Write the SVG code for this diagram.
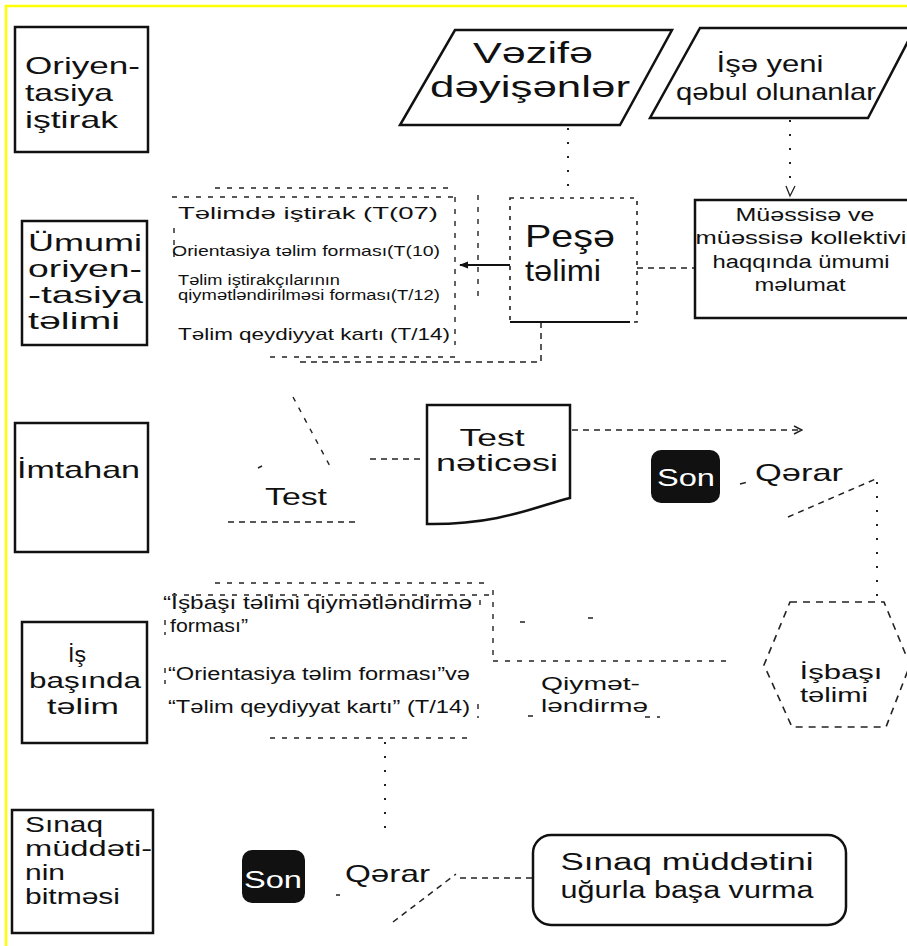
<svg xmlns="http://www.w3.org/2000/svg" width="907" height="946" viewBox="0 0 907 946">
<defs>
<style>
text{font-family:"Liberation Sans",Arial,sans-serif;fill:#111}
.box{fill:none;stroke:#111;stroke-width:2.5}
.faint{fill:none;stroke:#222;stroke-width:1.4;stroke-dasharray:5 7}
.dots{fill:none;stroke:#222;stroke-width:2;stroke-dasharray:2 12}
.dash{fill:none;stroke:#222;stroke-width:1.5;stroke-dasharray:6 5}
.c{text-anchor:middle}
.w{fill:#fff}
</style>
<marker id="ah" viewBox="0 0 10 10" refX="9" refY="5" markerWidth="9" markerHeight="9" orient="auto" markerUnits="userSpaceOnUse">
<path d="M0,1 L10,5 L0,9 Z" fill="#111"/>
</marker>
<marker id="oa" viewBox="0 0 10 10" refX="9" refY="5" markerWidth="10" markerHeight="10" orient="auto" markerUnits="userSpaceOnUse">
<path d="M1,1 L9,5 L1,9" fill="none" stroke="#222" stroke-width="1.5"/>
</marker>
</defs>
<rect width="907" height="946" fill="#fff"/>
<g id="frame">
<line x1="5" y1="6" x2="907" y2="6" stroke="#ffff00" stroke-width="2.5"/>
<line x1="6" y1="5" x2="6" y2="946" stroke="#ffff00" stroke-width="2.5"/>
</g>

<g id="connectors">
<line class="dots" x1="568" y1="128" x2="568" y2="196"/>
<line class="dots" x1="790" y1="120" x2="790" y2="190"/>
<path d="M786,186 L790,196 L795,186" fill="none" stroke="#222" stroke-width="1.3"/>
<line x1="510" y1="265" x2="460" y2="265" stroke="#111" stroke-width="2.2" marker-end="url(#ah)"/>
<line class="dash" x1="637" y1="268" x2="695" y2="268"/>
<path class="dash" d="M541,322 V362 H300"/>
<path class="faint" d="M293,397 L332,470"/>
<line class="dash" x1="370" y1="459" x2="425" y2="459"/>
<line class="dash" x1="572" y1="430" x2="802" y2="430" marker-end="url(#oa)"/>
<path class="dash" d="M740,484 L748,482"/>
<path class="dash" d="M788,517 L878,478"/>
<line class="dots" x1="877" y1="482" x2="877" y2="600"/>
<line class="dots" x1="385" y1="742" x2="385" y2="835"/>
<path class="dash" d="M393,922 L456,874"/>
<path class="dash" d="M336,895 L340,895"/>
<line class="dash" x1="460" y1="878" x2="532" y2="878"/>
</g>

<g id="n-oriyentasiya-istirak">
<rect class="box" x="15" y="27" width="133" height="125"/>
<text x="25" y="74" font-size="24" textLength="115" lengthAdjust="spacingAndGlyphs">Oriyen-</text>
<text x="25" y="101" font-size="24" textLength="88" lengthAdjust="spacingAndGlyphs">tasiya</text>
<text x="25" y="128" font-size="24" textLength="93" lengthAdjust="spacingAndGlyphs">iştirak</text>
</g>

<g id="n-umumi">
<rect class="box" x="22" y="221" width="125" height="124"/>
<text x="28" y="251" font-size="24" textLength="114" lengthAdjust="spacingAndGlyphs">Ümumi</text>
<text x="28" y="277" font-size="24" textLength="114" lengthAdjust="spacingAndGlyphs">oriyen-</text>
<text x="28" y="303" font-size="24" textLength="115" lengthAdjust="spacingAndGlyphs">-tasiya</text>
<text x="28" y="329" font-size="24" textLength="92" lengthAdjust="spacingAndGlyphs">təlimi</text>
</g>

<g id="n-imtahan">
<rect class="box" x="15" y="423" width="133" height="129"/>
<text x="17" y="478" font-size="24" textLength="123" lengthAdjust="spacingAndGlyphs">İmtahan</text>
</g>

<g id="n-is-basinda">
<rect class="box" x="22" y="622" width="125" height="121"/>
<text class="c" x="77" y="662" font-size="22" textLength="18" lengthAdjust="spacingAndGlyphs">İş</text>
<text class="c" x="85" y="688" font-size="22" textLength="112" lengthAdjust="spacingAndGlyphs">başında</text>
<text class="c" x="83" y="714" font-size="22" textLength="72" lengthAdjust="spacingAndGlyphs">təlim</text>
</g>

<g id="n-sinaq-bitmesi">
<rect class="box" x="12" y="810" width="141" height="123"/>
<text x="25" y="832" font-size="22" textLength="78" lengthAdjust="spacingAndGlyphs">Sınaq</text>
<text x="25" y="856" font-size="22" textLength="127" lengthAdjust="spacingAndGlyphs">müddəti-</text>
<text x="25" y="880" font-size="22" textLength="40" lengthAdjust="spacingAndGlyphs">nin</text>
<text x="25" y="904" font-size="22" textLength="95" lengthAdjust="spacingAndGlyphs">bitməsi</text>
</g>

<g id="n-vezife">
<polygon class="box" points="455,30 672,30 620,125 400,125"/>
<text class="c" x="533" y="63" font-size="30" textLength="120" lengthAdjust="spacingAndGlyphs">Vəzifə</text>
<text class="c" x="530" y="97" font-size="30" textLength="200" lengthAdjust="spacingAndGlyphs">dəyişənlər</text>
</g>

<g id="n-ise-yeni">
<polygon class="box" points="700,28 915,28 868,118 650,118"/>
<text class="c" x="770" y="72" font-size="24" textLength="107" lengthAdjust="spacingAndGlyphs">İşə yeni</text>
<text class="c" x="776" y="100" font-size="24" textLength="200" lengthAdjust="spacingAndGlyphs">qəbul olunanlar</text>
</g>

<g id="n-sened-siyahisi-1">
<path class="faint" d="M215,188 H455 M172,197 H455 M174,228 V262 M455,197 V345 M478,195 V300 M270,357 H455"/>
<text x="178" y="219" font-size="17" textLength="260" lengthAdjust="spacingAndGlyphs">Təlimdə iştirak (T(07)</text>
<text x="172" y="256" font-size="15" textLength="268" lengthAdjust="spacingAndGlyphs">Orientasiya təlim forması(T(10)</text>
<text x="178" y="285" font-size="14" textLength="162" lengthAdjust="spacingAndGlyphs">Təlim iştirakçılarının</text>
<text x="178" y="300" font-size="14" textLength="262" lengthAdjust="spacingAndGlyphs">qiymətləndirilməsi forması(T/12)</text>
<text x="178" y="340" font-size="17" textLength="272" lengthAdjust="spacingAndGlyphs">Təlim qeydiyyat kartı (T/14)</text>
</g>

<g id="n-pese-telimi">
<rect x="510" y="198" width="127" height="124" fill="none" stroke="#222" stroke-width="1.6" stroke-dasharray="4 6"/>
<line x1="510" y1="322" x2="630" y2="322" stroke="#111" stroke-width="2"/>
<text class="c" x="570" y="247" font-size="32" textLength="90" lengthAdjust="spacingAndGlyphs">Peşə</text>
<text class="c" x="563" y="281" font-size="30" textLength="76" lengthAdjust="spacingAndGlyphs">təlimi</text>
</g>

<g id="n-muessise">
<rect class="box" x="695" y="200" width="215" height="118"/>
<text class="c" x="805" y="221" font-size="18" textLength="139" lengthAdjust="spacingAndGlyphs">Müəssisə ve</text>
<text class="c" x="801" y="244" font-size="18" textLength="211" lengthAdjust="spacingAndGlyphs">müəssisə kollektivi</text>
<text class="c" x="801" y="268" font-size="18" textLength="177" lengthAdjust="spacingAndGlyphs">haqqında ümumi</text>
<text class="c" x="800" y="291" font-size="18" textLength="91" lengthAdjust="spacingAndGlyphs">məlumat</text>
</g>

<g id="n-test">
<path class="dash" d="M228,522 H360"/>
<path class="faint" d="M258,468 L262,466"/>
<text class="c" x="296" y="505" font-size="24" textLength="62" lengthAdjust="spacingAndGlyphs">Test</text>
</g>

<g id="n-test-neticesi">
<path class="box" d="M427,405 H570 V498 C540,505 500,525 427,524 Z"/>
<text class="c" x="492" y="446" font-size="24" textLength="65" lengthAdjust="spacingAndGlyphs">Test</text>
<text class="c" x="497" y="471" font-size="24" textLength="122" lengthAdjust="spacingAndGlyphs">nəticəsi</text>
</g>

<g id="n-son-1">
<rect x="651" y="450" width="69" height="53" rx="10" fill="#111"/>
<text class="c w" x="686" y="486" font-size="24" textLength="58" lengthAdjust="spacingAndGlyphs">Son</text>
</g>

<g id="n-qerar-1">
<text class="c" x="799" y="481" font-size="24" textLength="88" lengthAdjust="spacingAndGlyphs">Qərar</text>
</g>

<g id="n-sened-siyahisi-2">
<path class="faint" d="M215,583 H490 M172,595 H490 M493,590 V661 M493,661 H730 M520,622 H526 M588,618 H594 M528,716 H540 M645,717 H660 M165,620 V635 M165,668 V684 M480,600 V612 M478,704 V718 M270,738 H470"/>
<text x="163" y="609" font-size="18" textLength="309" lengthAdjust="spacingAndGlyphs">“İşbaşı təlimi qiymətləndirmə</text>
<text x="170" y="632" font-size="18" textLength="78" lengthAdjust="spacingAndGlyphs">forması”</text>
<text x="168" y="680" font-size="18" textLength="302" lengthAdjust="spacingAndGlyphs">“Orientasiya təlim forması”və</text>
<text x="168" y="713" font-size="18" textLength="302" lengthAdjust="spacingAndGlyphs">“Təlim qeydiyyat kartı” (T/14)</text>
</g>

<g id="n-qiymetlendirme">
<text x="541" y="690" font-size="19" textLength="99" lengthAdjust="spacingAndGlyphs">Qiymət-</text>
<text x="541" y="712" font-size="19" textLength="107" lengthAdjust="spacingAndGlyphs">ləndirmə</text>
</g>

<g id="n-isbasi-telimi">
<polygon points="790,602 884,602 910,665 886,727 792,727 764,665" fill="none" stroke="#222" stroke-width="1.6" stroke-dasharray="7 6"/>
<text class="c" x="841" y="679" font-size="21" textLength="83" lengthAdjust="spacingAndGlyphs">İşbaşı</text>
<text class="c" x="834" y="702" font-size="21" textLength="68" lengthAdjust="spacingAndGlyphs">təlimi</text>
</g>

<g id="n-son-2">
<rect x="242" y="850" width="63" height="53" rx="10" fill="#111"/>
<text class="c w" x="273" y="888" font-size="24" textLength="58" lengthAdjust="spacingAndGlyphs">Son</text>
</g>

<g id="n-qerar-2">
<text x="345" y="882" font-size="24" textLength="85" lengthAdjust="spacingAndGlyphs">Qərar</text>
</g>

<g id="n-sinaq-ugurla">
<rect class="box" x="533" y="835" width="313" height="90" rx="18"/>
<text class="c" x="687" y="870" font-size="23" textLength="253" lengthAdjust="spacingAndGlyphs">Sınaq müddətini</text>
<text class="c" x="687" y="898" font-size="23" textLength="253" lengthAdjust="spacingAndGlyphs">uğurla başa vurma</text>
</g>
</svg>
